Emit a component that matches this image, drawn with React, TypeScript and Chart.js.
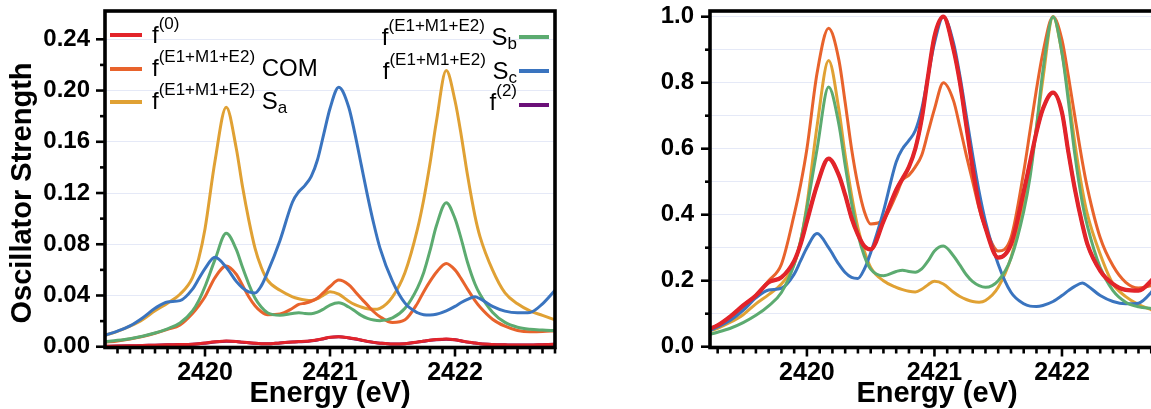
import React, { useEffect, useRef } from "react";
import { Chart, registerables } from "chart.js";

Chart.register(...registerables);

const FONT = '"Liberation Sans", Arial, Helvetica, sans-serif';

// ---------- data ----------
const energy = [
  2419.2, 2419.3, 2419.4, 2419.5, 2419.6, 2419.7, 2419.8, 2419.9, 2419.95, 2420.0,
  2420.08, 2420.17, 2420.25, 2420.3, 2420.35, 2420.4, 2420.45, 2420.5, 2420.6, 2420.7,
  2420.75, 2420.8, 2420.85, 2420.9, 2420.95, 2421.0, 2421.07, 2421.15, 2421.2, 2421.25,
  2421.3, 2421.35, 2421.4, 2421.5, 2421.6, 2421.7, 2421.75, 2421.8, 2421.85, 2421.93,
  2422.0, 2422.05, 2422.1, 2422.16, 2422.2, 2422.3, 2422.4, 2422.5, 2422.6, 2422.7, 2422.8,
];

// left panel: absolute oscillator strengths
const f0Abs = [
  0.0004, 0.0005, 0.0007, 0.001, 0.0012, 0.0015, 0.0017, 0.002, 0.0023, 0.0029,
  0.0038, 0.0044, 0.0041, 0.0036, 0.0031, 0.0027, 0.0024, 0.0023, 0.003, 0.0037,
  0.004, 0.0042, 0.0047, 0.0054, 0.0064, 0.0074, 0.0078, 0.007, 0.0062, 0.0052,
  0.0042, 0.0034, 0.0028, 0.0021, 0.0024, 0.0037, 0.0044, 0.0051, 0.0056, 0.006,
  0.0055, 0.0046, 0.0037, 0.0029, 0.0024, 0.0018, 0.0015, 0.0013, 0.0013, 0.0016, 0.0019,
];
const f2Abs = [
  0.0004, 0.0005, 0.0007, 0.001, 0.0012, 0.0015, 0.0017, 0.002, 0.0023, 0.0028,
  0.0037, 0.0043, 0.004, 0.0035, 0.0031, 0.0027, 0.0024, 0.0023, 0.003, 0.0036,
  0.0039, 0.0041, 0.0046, 0.0053, 0.0063, 0.0073, 0.0077, 0.0069, 0.0061, 0.0051,
  0.0041, 0.0034, 0.0028, 0.0021, 0.0024, 0.0036, 0.0043, 0.005, 0.0055, 0.0059,
  0.0054, 0.0045, 0.0036, 0.0029, 0.0024, 0.0018, 0.0015, 0.0013, 0.0013, 0.0016, 0.0019,
];
const comAbs = [
  0.0035, 0.0045, 0.006, 0.008, 0.0105, 0.0135, 0.017, 0.026, 0.032, 0.039,
  0.054, 0.063, 0.0566, 0.048, 0.039, 0.032, 0.0273, 0.025, 0.0255, 0.03,
  0.033, 0.034, 0.0355, 0.038, 0.0425, 0.047, 0.052, 0.0484, 0.0432, 0.0377,
  0.0325, 0.0273, 0.0234, 0.0189, 0.021, 0.034, 0.043, 0.051, 0.058, 0.065,
  0.06, 0.053, 0.045, 0.036, 0.031, 0.0215, 0.016, 0.0127, 0.0116, 0.0118, 0.0125,
];
const saAbs = [
  0.009, 0.012, 0.016, 0.021, 0.028, 0.034, 0.041, 0.054, 0.069, 0.092,
  0.145, 0.187, 0.155, 0.125, 0.099, 0.077, 0.062, 0.052, 0.044, 0.039,
  0.0375, 0.0365, 0.036, 0.0375, 0.0405, 0.043, 0.041, 0.0355, 0.0328, 0.031,
  0.0296, 0.0292, 0.03, 0.039, 0.058, 0.092, 0.115, 0.143, 0.175, 0.2156,
  0.192, 0.165, 0.134, 0.102, 0.086, 0.06, 0.042, 0.0335, 0.028, 0.0245, 0.021,
];
const sbAbs = [
  0.004, 0.005, 0.0063, 0.0082, 0.0107, 0.014, 0.0185, 0.028, 0.036, 0.047,
  0.068, 0.0885, 0.076, 0.062, 0.049, 0.038, 0.031, 0.0265, 0.0245, 0.026,
  0.0265, 0.026, 0.0258, 0.027, 0.0295, 0.0325, 0.0343, 0.031, 0.0278, 0.0245,
  0.0222, 0.0208, 0.0203, 0.0225, 0.03, 0.046, 0.058, 0.075, 0.094, 0.1125,
  0.1, 0.084, 0.066, 0.049, 0.041, 0.027, 0.019, 0.0152, 0.0136, 0.013, 0.0126,
];
const scAbs = [
  0.009, 0.0122, 0.0163, 0.0225, 0.03, 0.035, 0.036, 0.045, 0.053, 0.061,
  0.0698, 0.062, 0.051, 0.046, 0.0428, 0.042, 0.0475, 0.058, 0.083, 0.113,
  0.121, 0.126, 0.133, 0.146, 0.166, 0.186, 0.2026, 0.187, 0.166, 0.142,
  0.118, 0.096, 0.077, 0.051, 0.034, 0.0265, 0.025, 0.0248, 0.0253, 0.028,
  0.0315, 0.0345, 0.037, 0.039, 0.0375, 0.0315, 0.0278, 0.0265, 0.0268, 0.0335, 0.044,
];

// right panel: normalised spectra
const f0Norm = [
  0.048, 0.065, 0.092, 0.125, 0.155, 0.195, 0.21, 0.26, 0.31, 0.38,
  0.49, 0.57, 0.52, 0.46, 0.39, 0.34, 0.305, 0.295, 0.38, 0.475,
  0.51, 0.545, 0.6, 0.69, 0.82, 0.94, 1.0, 0.9, 0.8, 0.67,
  0.54, 0.43, 0.36, 0.27, 0.31, 0.47, 0.56, 0.65, 0.72, 0.77,
  0.71, 0.59, 0.48, 0.37, 0.31, 0.23, 0.19, 0.172, 0.17, 0.2, 0.25,
];
const f2Norm = [
  0.048, 0.065, 0.092, 0.125, 0.155, 0.195, 0.21, 0.26, 0.31, 0.38,
  0.49, 0.57, 0.52, 0.46, 0.39, 0.34, 0.305, 0.295, 0.38, 0.475,
  0.51, 0.545, 0.6, 0.69, 0.82, 0.94, 1.0, 0.9, 0.8, 0.67,
  0.54, 0.43, 0.36, 0.27, 0.31, 0.47, 0.56, 0.65, 0.72, 0.77,
  0.71, 0.59, 0.48, 0.37, 0.31, 0.23, 0.19, 0.172, 0.17, 0.2, 0.25,
];
const comNorm = [
  0.05, 0.065, 0.087, 0.117, 0.157, 0.2, 0.25, 0.4, 0.49, 0.6,
  0.83, 0.965, 0.87, 0.74, 0.6, 0.49, 0.41, 0.372, 0.385, 0.46,
  0.505, 0.52, 0.545, 0.58, 0.65, 0.72, 0.8, 0.745, 0.665, 0.58,
  0.5, 0.42, 0.36, 0.29, 0.33, 0.53, 0.655, 0.78, 0.89, 1.0,
  0.93, 0.82, 0.7, 0.56, 0.48, 0.33, 0.245, 0.195, 0.178, 0.185, 0.2,
];
const saNorm = [
  0.044, 0.056, 0.074, 0.097, 0.13, 0.158, 0.19, 0.25, 0.32, 0.43,
  0.67, 0.867, 0.72, 0.58, 0.46, 0.36, 0.29, 0.24, 0.2, 0.18,
  0.173, 0.168, 0.166, 0.174, 0.188, 0.198, 0.19, 0.165, 0.152, 0.143,
  0.137, 0.135, 0.14, 0.18, 0.27, 0.43, 0.535, 0.665, 0.81, 1.0,
  0.89, 0.765, 0.62, 0.475, 0.4, 0.28, 0.19, 0.152, 0.128, 0.112, 0.098,
];
const sbNorm = [
  0.034, 0.044, 0.056, 0.073, 0.095, 0.124, 0.164, 0.25, 0.32, 0.42,
  0.6, 0.787, 0.675, 0.55, 0.435, 0.34, 0.275, 0.235, 0.215, 0.228,
  0.232, 0.228, 0.226, 0.236, 0.26, 0.29, 0.305, 0.275, 0.247, 0.218,
  0.197, 0.185, 0.18, 0.2, 0.267, 0.41, 0.515, 0.665, 0.835, 1.0,
  0.89, 0.745, 0.585, 0.435, 0.365, 0.24, 0.17, 0.135, 0.121, 0.116, 0.112,
];
const scNorm = [
  0.042, 0.06, 0.08, 0.11, 0.148, 0.172, 0.177, 0.22, 0.26, 0.3,
  0.343, 0.3, 0.25, 0.225, 0.21, 0.207, 0.235, 0.285, 0.41, 0.56,
  0.6, 0.625, 0.655, 0.72, 0.82, 0.92, 1.0, 0.92, 0.82, 0.7,
  0.58, 0.47, 0.38, 0.25, 0.165, 0.13, 0.123, 0.122, 0.125, 0.137,
  0.155, 0.17, 0.183, 0.193, 0.185, 0.155, 0.137, 0.13, 0.132, 0.165, 0.22,
];

const xTickLabels = [2420, 2421, 2422];
const leftYTickLabels = ["0.00", "0.04", "0.08", "0.12", "0.16", "0.20", "0.24"];
const rightYTickLabels = ["0.0", "0.2", "0.4", "0.6", "0.8", "1.0"];

// ---------- styles ----------
const C = {
  red: "#e2242a",
  orange: "#e8632c",
  gold: "#e0a134",
  green: "#5cab70",
  blue: "#3a74bf",
  purple: "#6b1078",
  grid: "#e5e9f7",
};

type Part = { t: string; size: number; dy: number };
const M = (t: string): Part => ({ t, size: 24, dy: 0 });
const SUP = (t: string): Part => ({ t, size: 17, dy: -14.5 });
const SUB = (t: string): Part => ({ t, size: 17, dy: 4 });

type LegendItem = { color: string; lineY: number; base: number; parts: Part[]; side: "left" | "right" };
const legendItems: LegendItem[] = [
  { color: C.red, lineY: 35, base: 43, parts: [M("f"), SUP("(0)")], side: "left" },
  { color: C.orange, lineY: 69, base: 76, parts: [M("f"), SUP("(E1+M1+E2)"), M(" COM")], side: "left" },
  { color: C.gold, lineY: 102, base: 109, parts: [M("f"), SUP("(E1+M1+E2)"), M(" S"), SUB("a")], side: "left" },
  { color: C.green, lineY: 37, base: 45, parts: [M("f"), SUP("(E1+M1+E2)"), M(" S"), SUB("b")], side: "right" },
  { color: C.blue, lineY: 71, base: 79, parts: [M("f"), SUP("(E1+M1+E2)"), M(" S"), SUB("c")], side: "right" },
  { color: C.purple, lineY: 105, base: 110, parts: [M("f"), SUP("(2)")], side: "right" },
];

function partsWidth(ctx: CanvasRenderingContext2D, parts: Part[]) {
  let w = 0;
  for (const p of parts) {
    ctx.font = `${p.size}px ${FONT}`;
    w += ctx.measureText(p.t).width;
  }
  return w;
}
function drawParts(ctx: CanvasRenderingContext2D, parts: Part[], x: number, base: number) {
  let cx = x;
  for (const p of parts) {
    ctx.font = `${p.size}px ${FONT}`;
    ctx.fillText(p.t, cx, base + p.dy);
    cx += ctx.measureText(p.t).width;
  }
}

type PanelOpts = {
  series: { label: string; data: number[]; color: string; width: number; order: number }[];
  yMin: number;
  yMax: number;
  yStep: number;
  yCount: number;
  yLabels: string[];
  xMin: number;
  xMax: number;
  yAxisWidth: number;
  padRight: number;
  yLabelPad: number;
  yTitle: boolean;
  legend: boolean;
};

function buildConfig(o: PanelOpts): any {
  const yGrid: number[] = [];
  for (let k = 0; k <= o.yCount; k++) yGrid.push(Math.round(k * o.yStep * 1000) / 1000);

  const decor = {
    id: "decor",
    afterDraw(chart: any) {
      const { ctx, chartArea: a, scales } = chart;
      const xs = scales.x;
      const ys = scales.y;
      ctx.save();
      ctx.strokeStyle = "#000";
      ctx.lineWidth = 2.6;
      // y tick marks
      for (let k = 0; k <= o.yCount; k++) {
        const py = ys.getPixelForValue(yGrid[k]);
        const len = k % 2 === 0 ? 9 : 5;
        ctx.beginPath();
        ctx.moveTo(a.left - len, py);
        ctx.lineTo(a.left, py);
        ctx.stroke();
      }
      // x tick marks (0.1 eV minor, 1 eV major)
      for (let k = Math.ceil(o.xMin * 10 + 1e-6); k <= Math.floor(o.xMax * 10 + 1e-6); k++) {
        const px = xs.getPixelForValue(k / 10);
        const len = k % 10 === 0 ? 9 : 6;
        ctx.beginPath();
        ctx.moveTo(px, a.bottom);
        ctx.lineTo(px, a.bottom + len);
        ctx.stroke();
      }
      // frame
      ctx.lineWidth = 3.6;
      ctx.strokeRect(a.left, a.top, a.right - a.left, a.bottom - a.top);

      // axis titles
      ctx.fillStyle = "#000";
      ctx.font = `bold 29px ${FONT}`;
      ctx.textAlign = "center";
      ctx.textBaseline = "alphabetic";
      ctx.fillText("Energy (eV)", (a.left + a.right) / 2, 402);
      if (o.yTitle) {
        ctx.save();
        ctx.translate(31, 193);
        ctx.rotate(-Math.PI / 2);
        ctx.fillText("Oscillator Strength", 0, 0);
        ctx.restore();
      }

      // legend
      if (o.legend) {
        ctx.textAlign = "left";
        for (const it of legendItems) {
          ctx.strokeStyle = it.color;
          ctx.lineWidth = 4;
          ctx.beginPath();
          if (it.side === "left") {
            ctx.moveTo(110, it.lineY);
            ctx.lineTo(142, it.lineY);
          } else {
            ctx.moveTo(519, it.lineY);
            ctx.lineTo(549, it.lineY);
          }
          ctx.stroke();
          ctx.fillStyle = "#000";
          if (it.side === "left") {
            drawParts(ctx, it.parts, 152, it.base);
          } else {
            const w = partsWidth(ctx, it.parts);
            drawParts(ctx, it.parts, 517 - w, it.base);
          }
        }
      }
      ctx.restore();
    },
  };

  return {
    type: "line",
    data: {
      datasets: o.series.map((s) => ({
        label: s.label,
        data: energy.map((e, i) => ({ x: e, y: s.data[i] })),
        borderColor: s.color,
        backgroundColor: s.color,
        borderWidth: s.width,
        pointRadius: 0,
        fill: false,
        cubicInterpolationMode: "monotone",
        order: s.order,
      })),
    },
    options: {
      responsive: false,
      animation: false,
      devicePixelRatio: 1,
      layout: { padding: { left: 0, top: 11, right: o.padRight, bottom: 0 } },
      plugins: { legend: { display: false }, tooltip: { enabled: false } },
      events: [],
      scales: {
        x: {
          type: "linear",
          min: o.xMin,
          max: o.xMax,
          grid: { display: false, drawTicks: false },
          border: { display: false },
          afterBuildTicks: (s: any) => {
            s.ticks = xTickLabels.map((v) => ({ value: v }));
          },
          afterFit: (s: any) => {
            s.height = 61.5;
            s.paddingLeft = 0;
            s.paddingRight = 0;
          },
          ticks: {
            autoSkip: false,
            maxRotation: 0,
            padding: 11,
            color: "#000",
            font: { family: FONT, size: 25, weight: "bold" },
            callback: (v: any) => String(v),
          },
        },
        y: {
          type: "linear",
          min: o.yMin,
          max: o.yMax,
          grid: { color: C.grid, lineWidth: 1, drawTicks: false },
          border: { display: false },
          afterBuildTicks: (s: any) => {
            s.ticks = yGrid.map((v) => ({ value: v }));
          },
          afterFit: (s: any) => {
            s.width = o.yAxisWidth;
            s.paddingTop = 0;
            s.paddingBottom = 0;
          },
          ticks: {
            padding: o.yLabelPad,
            color: "#000",
            font: { family: FONT, size: 24, weight: "bold" },
            callback: (_v: any, i: number) => (i % 2 === 0 ? o.yLabels[i / 2] : ""),
          },
        },
      },
    },
    plugins: [decor],
  };
}

const leftPanel: PanelOpts = {
  series: [
    { label: "f(0)", data: f0Abs, color: C.red, width: 3, order: 0 },
    { label: "f(2)", data: f2Abs, color: C.purple, width: 3, order: 1 },
    { label: "f(E1+M1+E2) Sc", data: scAbs, color: C.blue, width: 3, order: 2 },
    { label: "f(E1+M1+E2) Sb", data: sbAbs, color: C.green, width: 3, order: 3 },
    { label: "f(E1+M1+E2) COM", data: comAbs, color: C.orange, width: 3, order: 4 },
    { label: "f(E1+M1+E2) Sa", data: saAbs, color: C.gold, width: 3, order: 5 },
  ],
  yMin: -0.0006,
  yMax: 0.2621,
  yStep: 0.02,
  yCount: 12,
  yLabels: leftYTickLabels,
  xMin: 2419.2,
  xMax: 2422.8,
  yAxisWidth: 105,
  padRight: 5,
  yLabelPad: 15,
  yTitle: true,
  legend: true,
};

const rightPanel: PanelOpts = {
  series: [
    { label: "f(0)", data: f0Norm, color: C.red, width: 4.2, order: 0 },
    { label: "f(2)", data: f2Norm, color: C.purple, width: 3, order: 1 },
    { label: "f(E1+M1+E2) Sb", data: sbNorm, color: C.green, width: 3, order: 2 },
    { label: "f(E1+M1+E2) Sc", data: scNorm, color: C.blue, width: 3, order: 3 },
    { label: "f(E1+M1+E2) Sa", data: saNorm, color: C.gold, width: 3, order: 4 },
    { label: "f(E1+M1+E2) COM", data: comNorm, color: C.orange, width: 3, order: 5 },
  ],
  yMin: -0.0024,
  yMax: 1.0173,
  yStep: 0.1,
  yCount: 10,
  yLabels: rightYTickLabels,
  xMin: 2419.24,
  xMax: 2422.8,
  yAxisWidth: 110,
  padRight: 6,
  yLabelPad: 16,
  yTitle: false,
  legend: false,
};

function Panel({ opts, left, width }: { opts: PanelOpts; left: number; width: number }) {
  const ref = useRef<HTMLCanvasElement>(null);
  useEffect(() => {
    if (!ref.current) return;
    const chart = new Chart(ref.current, buildConfig(opts));
    return () => chart.destroy();
  }, [opts]);
  return (
    <canvas
      ref={ref}
      width={width}
      height={409}
      style={{ position: "absolute", left, top: 0, width, height: 409, display: "block" }}
    />
  );
}

export default function App() {
  return (
    <div
      style={{
        position: "fixed",
        left: 0,
        top: 0,
        width: 1151,
        height: 409,
        overflow: "hidden",
        background: "#fff",
      }}
    >
      <Panel opts={leftPanel} left={0} width={560} />
      <Panel opts={rightPanel} left={600} width={570} />
    </div>
  );
}
